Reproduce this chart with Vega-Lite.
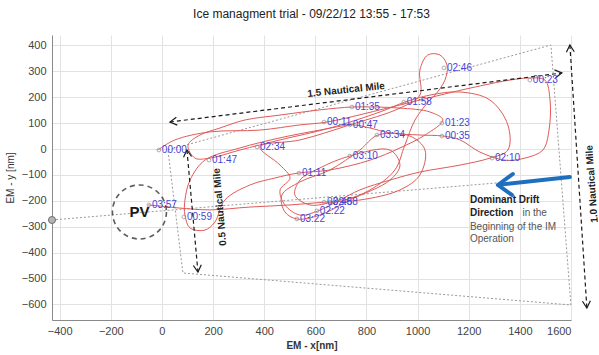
{
  "$schema": "https://vega.github.io/schema/vega-lite/v6.json",
  "width": 519,
  "height": 285,
  "autosize": "none",
  "padding": {"left": 52, "top": 35, "right": 28, "bottom": 35},
  "title": {"text": "Ice managment trial - 09/22/12 13:55 - 17:53", "font": "Liberation Sans", "fontSize": 12, "fontWeight": "normal", "color": "#222222", "offset": 14, "anchor": "middle"},
  "config": {
    "view": {"stroke": null},
    "axis": {"gridColor": "#e2e2e2", "gridWidth": 1, "labelFont": "Liberation Sans", "labelFontSize": 11, "labelColor": "#444444", "domainColor": "#8a8a8a", "tickColor": "#8a8a8a", "tickSize": 0, "titleFont": "Liberation Sans", "titleFontSize": 10, "titleColor": "#333333"}
  },
  "datasets": {
    "track": [
      {"o":1,"x":-16,"y":-4},{"o":2,"x":51,"y":35},{"o":3,"x":188,"y":66},{"o":4,"x":383,"y":73},{"o":5,"x":540,"y":93},
      {"o":6,"x":645,"y":104},{"o":7,"x":853,"y":151},{"o":8,"x":1009,"y":189},{"o":9,"x":1205,"y":235},{"o":10,"x":1361,"y":266},
      {"o":11,"x":1439,"y":274},{"o":12,"x":1498,"y":266},{"o":13,"x":1518,"y":189},{"o":14,"x":1514,"y":73},{"o":15,"x":1490,"y":-4},
      {"o":16,"x":1420,"y":-35},{"o":17,"x":1342,"y":-43},{"o":18,"x":1244,"y":-12},{"o":19,"x":1166,"y":35},{"o":20,"x":1099,"y":50},
      {"o":21,"x":1009,"y":54},{"o":22,"x":892,"y":62},{"o":23,"x":814,"y":81},{"o":24,"x":747,"y":93},{"o":25,"x":618,"y":73},
      {"o":26,"x":462,"y":43},{"o":27,"x":305,"y":4},{"o":28,"x":168,"y":-43},{"o":29,"x":110,"y":-120},{"o":30,"x":90,"y":-197},
      {"o":31,"x":90,"y":-255},{"o":32,"x":110,"y":-305},{"o":33,"x":168,"y":-313},{"o":34,"x":207,"y":-282},{"o":35,"x":246,"y":-197},
      {"o":36,"x":344,"y":-139},{"o":37,"x":442,"y":-112},{"o":38,"x":532,"y":-93},{"o":39,"x":657,"y":-81},{"o":40,"x":814,"y":-43},
      {"o":41,"x":931,"y":4},{"o":42,"x":1029,"y":54},{"o":43,"x":1099,"y":112},{"o":44,"x":1048,"y":143},{"o":45,"x":931,"y":158},
      {"o":46,"x":833,"y":162},{"o":47,"x":743,"y":162},{"o":48,"x":618,"y":151},{"o":49,"x":462,"y":131},{"o":50,"x":325,"y":112},
      {"o":51,"x":227,"y":81},{"o":52,"x":149,"y":54},{"o":53,"x":102,"y":15},{"o":54,"x":129,"y":-35},{"o":55,"x":188,"y":-35},
      {"o":56,"x":305,"y":-4},{"o":57,"x":462,"y":35},{"o":58,"x":657,"y":81},{"o":59,"x":853,"y":143},{"o":60,"x":950,"y":181},
      {"o":61,"x":1048,"y":208},{"o":62,"x":1166,"y":220},{"o":63,"x":1283,"y":189},{"o":64,"x":1353,"y":93},{"o":65,"x":1353,"y":-4},
      {"o":66,"x":1283,"y":-35},{"o":67,"x":1166,"y":-62},{"o":68,"x":1009,"y":-89},{"o":69,"x":892,"y":-120},{"o":70,"x":774,"y":-158},
      {"o":71,"x":696,"y":-197},{"o":72,"x":610,"y":-239},{"o":73,"x":540,"y":-255},{"o":74,"x":481,"y":-216},{"o":75,"x":462,"y":-158},
      {"o":76,"x":501,"y":-112},{"o":77,"x":462,"y":-62},{"o":78,"x":383,"y":8},{"o":79,"x":540,"y":35},{"o":80,"x":735,"y":93},
      {"o":81,"x":931,"y":158},{"o":82,"x":1009,"y":208},{"o":83,"x":1009,"y":305},{"o":84,"x":1040,"y":363},{"o":85,"x":1087,"y":363},
      {"o":86,"x":1115,"y":324},{"o":87,"x":1107,"y":266},{"o":88,"x":1068,"y":208},{"o":89,"x":1048,"y":189},{"o":90,"x":990,"y":112},
      {"o":91,"x":950,"y":15},{"o":92,"x":911,"y":-81},{"o":93,"x":814,"y":-158},{"o":94,"x":716,"y":-197},{"o":95,"x":669,"y":-205},
      {"o":96,"x":579,"y":-216},{"o":97,"x":520,"y":-178},{"o":98,"x":540,"y":-120},{"o":99,"x":618,"y":-73},{"o":100,"x":735,"y":-27},
      {"o":101,"x":892,"y":-4},{"o":102,"x":931,"y":-62},{"o":103,"x":892,"y":-120},{"o":104,"x":735,"y":-197},{"o":105,"x":618,"y":-255},
      {"o":106,"x":528,"y":-270},{"o":107,"x":481,"y":-243},{"o":108,"x":469,"y":-178},{"o":109,"x":540,"y":-127},{"o":110,"x":657,"y":-81},
      {"o":111,"x":774,"y":-4},{"o":112,"x":845,"y":54},{"o":113,"x":970,"y":50},{"o":114,"x":1029,"y":-4},{"o":115,"x":1009,"y":-100},
      {"o":116,"x":931,"y":-158},{"o":117,"x":774,"y":-197},{"o":118,"x":638,"y":-205},{"o":119,"x":501,"y":-216},{"o":120,"x":344,"y":-224},
      {"o":121,"x":188,"y":-235},{"o":122,"x":70,"y":-228},{"o":123,"x":-8,"y":-220},{"o":124,"x":-55,"y":-216}
    ],
    "labels": [
      {"t":"00:00","x":-12,"y":-4},{"t":"00:11","x":634,"y":104},{"t":"00:23","x":1439,"y":266},{"t":"00:35","x":1095,"y":50},
      {"t":"00:47","x":735,"y":93},{"t":"00:59","x":86,"y":-262},{"t":"01:11","x":536,"y":-93},{"t":"01:23","x":1095,"y":100},
      {"t":"01:35","x":743,"y":162},{"t":"01:47","x":184,"y":-43},{"t":"01:58","x":946,"y":181},{"t":"02:10","x":1291,"y":-35},
      {"t":"02:22","x":606,"y":-239},{"t":"02:34","x":372,"y":8},{"t":"02:46","x":1103,"y":313},{"t":"02:58","x":657,"y":-205},
      {"t":"03:10","x":735,"y":-27},{"t":"03:22","x":528,"y":-270},{"t":"03:34","x":841,"y":54},{"t":"03:46","x":634,"y":-205},
      {"t":"03:57","x":-51,"y":-216}
    ],
    "gray": [
      {"g":"q","o":1,"x":23.5,"y":-3.9},{"g":"q","o":2,"x":1521.4,"y":401.4},{"g":"q","o":3,"x":1599.6,"y":-602},
      {"g":"q","o":4,"x":82.1,"y":-478.6},{"g":"q","o":5,"x":23.5,"y":-3.9},
      {"g":"l","o":1,"x":-430,"y":-274},{"g":"l","o":2,"x":1310,"y":-131}
    ],
    "shafts": [
      {"g":"s1","o":1,"x":31.3,"y":104.2},{"g":"s1","o":2,"x":1564.3,"y":293.3},
      {"g":"s2","o":1,"x":97.8,"y":-3.9},{"g":"s2","o":2,"x":140.8,"y":-474.7},
      {"g":"s3","o":1,"x":1595.6,"y":401.4},{"g":"s3","o":2,"x":1662.1,"y":-613.7}
    ],
    "heads": [
      {"g":"h1","o":1,"x":60.2,"y":92.2},{"g":"h1","o":2,"x":31.3,"y":104.2},{"g":"h1","o":3,"x":56.3,"y":122.7},
      {"g":"h2","o":1,"x":1535.4,"y":305.3},{"g":"h2","o":2,"x":1564.3,"y":293.3},{"g":"h2","o":3,"x":1539.3,"y":274.8},
      {"g":"h3","o":1,"x":84.5,"y":-32.0},{"g":"h3","o":2,"x":97.8,"y":-3.9},{"g":"h3","o":3,"x":115.8,"y":-28.9},
      {"g":"h4","o":1,"x":154.1,"y":-446.5},{"g":"h4","o":2,"x":140.8,"y":-474.7},{"g":"h4","o":3,"x":122.8,"y":-449.6},
      {"g":"h5","o":1,"x":1582.0,"y":373.6},{"g":"h5","o":2,"x":1595.6,"y":401.4},{"g":"h5","o":3,"x":1612.8,"y":375.5},
      {"g":"h6","o":1,"x":1675.8,"y":-585.9},{"g":"h6","o":2,"x":1662.1,"y":-613.7},{"g":"h6","o":3,"x":1644.9,"y":-587.8}
    ],
    "blue": [
      {"g":"b1","o":1,"x":1595.6,"y":-108.1},{"g":"b1","o":2,"x":1316,"y":-138.5},
      {"g":"b2","o":1,"x":1372.6,"y":-96.5},{"g":"b2","o":2,"x":1314,"y":-138.9},{"g":"b2","o":3,"x":1368.8,"y":-177.5}
    ],
    "milelabels": [
      {"t":"1.5 Nautical Mile","x":720,"y":228,"a":-6},
      {"t":"0.5 Nautical Mile","x":227,"y":-224,"a":265},
      {"t":"1.0 Nautical Mile","x":1682,"y":-135,"a":266}
    ],
    "drifttext": [
      {"t":"Dominant Drift","x":1204.6,"y":-196.8},
      {"t":"Direction","x":1204.6,"y":-247}
    ],
    "normtext": [
      {"t":"in the","x":1410,"y":-247},
      {"t":"Beginning of the IM","x":1204.6,"y":-301},
      {"t":"Operation","x":1204.6,"y":-347.4}
    ],
    "pv": [{"t":"PV","x":-88,"y":-243}],
    "leftmark": [{"x":-430,"y":-274}]
  },
  "encoding": {
    "x": {"field": "x", "type": "quantitative", "scale": {"domain": [-430, 1600], "nice": false, "zero": false},
          "axis": {"values": [-400,-200,0,200,400,600,800,1000,1200,1400,1600], "format": "d", "title": "EM - x[nm]", "titleFontWeight": "bold", "titlePadding": 4, "labelPadding": 5}},
    "y": {"field": "y", "type": "quantitative", "scale": {"domain": [-660, 440], "nice": false, "zero": false},
          "axis": {"values": [-600,-500,-400,-300,-200,-100,0,100,200,300,400], "format": "d", "title": "EM - y [nm]", "titleFontWeight": "normal", "titlePadding": 6, "labelPadding": 6}}
  },
  "layer": [
    {"data": {"name": "gray"}, "mark": {"type": "line", "color": "#9a9a9a", "strokeWidth": 1, "strokeDash": [2, 2]},
     "encoding": {"detail": {"field": "g"}, "order": {"field": "o", "type": "quantitative"}}},
    {"data": {"name": "track"}, "mark": {"type": "line", "color": "#e05a5a", "strokeWidth": 1, "interpolate": "catmull-rom"},
     "encoding": {"order": {"field": "o", "type": "quantitative"}}},
    {"data": {"name": "shafts"}, "mark": {"type": "line", "color": "#1a1a1a", "strokeWidth": 1.2, "strokeDash": [4, 3]},
     "encoding": {"detail": {"field": "g"}, "order": {"field": "o", "type": "quantitative"}}},
    {"data": {"name": "heads"}, "mark": {"type": "line", "color": "#1a1a1a", "strokeWidth": 1.2},
     "encoding": {"detail": {"field": "g"}, "order": {"field": "o", "type": "quantitative"}}},
    {"data": {"name": "blue"}, "mark": {"type": "line", "color": "#1f6fc0", "strokeWidth": 4, "strokeCap": "round", "strokeJoin": "round"},
     "encoding": {"detail": {"field": "g"}, "order": {"field": "o", "type": "quantitative"}}},
    {"data": {"name": "labels"}, "mark": {"type": "point", "shape": "circle", "size": 14, "filled": false, "color": "#8c8c8c", "strokeWidth": 1}},
    {"data": {"name": "labels"}, "mark": {"type": "text", "align": "left", "baseline": "middle", "dx": 3, "font": "Liberation Sans", "fontSize": 10, "color": "#4545d6"},
     "encoding": {"text": {"field": "t"}}},
    {"data": {"name": "pv"}, "mark": {"type": "point", "shape": "circle", "size": 2916, "filled": false, "color": "#1a1a1a", "strokeWidth": 1.6, "strokeDash": [5, 4]}},
    {"data": {"name": "pv"}, "mark": {"type": "text", "align": "center", "baseline": "middle", "font": "Liberation Sans", "fontSize": 15, "fontWeight": "bold", "color": "#1a1a1a"},
     "encoding": {"text": {"field": "t"}}},
    {"data": {"name": "leftmark"}, "mark": {"type": "point", "shape": "circle", "size": 50, "filled": true, "color": "#b5b5b5", "stroke": "#6f6f6f", "strokeWidth": 1, "opacity": 1}},
    {"data": {"name": "milelabels"}, "mark": {"type": "text", "align": "center", "baseline": "middle", "font": "Liberation Sans", "fontSize": 10, "fontWeight": "bold", "color": "#222222"},
     "encoding": {"text": {"field": "t"}, "angle": {"field": "a", "type": "quantitative", "scale": null}}},
    {"data": {"name": "drifttext"}, "mark": {"type": "text", "align": "left", "baseline": "middle", "font": "Liberation Sans", "fontSize": 10, "fontWeight": "bold", "color": "#222222"},
     "encoding": {"text": {"field": "t"}}},
    {"data": {"name": "normtext"}, "mark": {"type": "text", "align": "left", "baseline": "middle", "font": "Liberation Sans", "fontSize": 10, "color": "#555555"},
     "encoding": {"text": {"field": "t"}}}
  ]
}
